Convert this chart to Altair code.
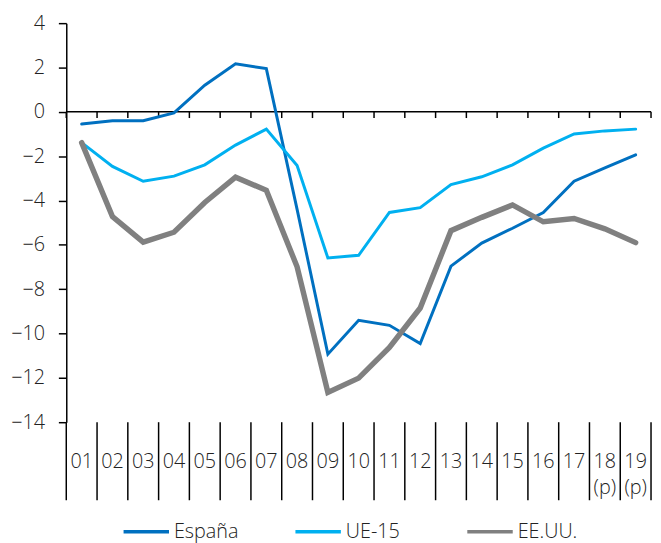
import altair as alt
import pandas as pd

years = ["01", "02", "03", "04", "05", "06", "07", "08", "09", "10",
         "11", "12", "13", "14", "15", "16", "17", "18", "19"]
year_labels = ["01", "02", "03", "04", "05", "06", "07", "08", "09", "10",
               "11", "12", "13", "14", "15", "16", "17", "18\n(p)", "19\n(p)"]

espana = [-0.55, -0.4, -0.4, -0.05, 1.2, 2.17, 1.95, -4.4, -10.93, -9.4,
          -9.63, -10.45, -6.96, -5.92, -5.25, -4.54, -3.13, -2.53, -1.94]
ue15 = [-1.39, -2.46, -3.13, -2.9, -2.39, -1.5, -0.78, -2.42, -6.59, -6.47,
        -4.54, -4.32, -3.28, -2.93, -2.39, -1.64, -1.0, -0.86, -0.78]
eeuu = [-1.39, -4.72, -5.88, -5.43, -4.09, -2.95, -3.54, -6.99, -12.66, -12.01,
        -10.63, -8.85, -5.36, -4.76, -4.2, -4.96, -4.81, -5.28, -5.9]

series_names = ["España", "UE-15", "EE.UU."]
series_colors = ["#0070C0", "#00B0F0", "#808080"]
series_widths = [3, 3, 5.5]
y_ticks = list(range(-14, 5, 2))

FONT = "Open Sans"
FW = 300
FS = 20
n = len(years)
boundaries = list(range(0, n + 1))

rows = []
for name, vals, w in zip(series_names, [espana, ue15, eeuu], series_widths):
    for i, v in enumerate(vals):
        rows.append({"pos": i + 0.5, "year": years[i], "series": name, "value": v, "sw": w})
df = pd.DataFrame(rows)

lab_df = pd.DataFrame({"pos": [i + 0.5 for i in range(n)], "label": year_labels})
bnd_df = pd.DataFrame({"b": boundaries, "top": [0.0] * len(boundaries),
                       "tick": [-0.28] * len(boundaries),
                       "sep0": [-14.0] * len(boundaries),
                       "sep1": [-17.52] * len(boundaries)})
zero_df = pd.DataFrame({"x0": [0], "x1": [n], "v": [0]})

xscale = alt.Scale(domain=[0, n], nice=False, zero=False)
yscale = alt.Scale(domain=[-14, 4], nice=False, zero=False)

lines = alt.Chart(df).mark_line(strokeCap="round", strokeJoin="miter").encode(
    x=alt.X("pos:Q", scale=xscale, title=None,
            axis=alt.Axis(labels=False, ticks=False, domain=False, grid=False)),
    y=alt.Y("value:Q", scale=yscale, title=None,
            axis=alt.Axis(values=y_ticks, grid=False, tickSize=8, tickColor="#000000",
                          tickWidth=1.5, domainColor="#000000", domainWidth=1.5,
                          labelFont=FONT, labelFontSize=FS, labelFontWeight=FW,
                          labelColor="#222222", labelPadding=14)),
    color=alt.Color("series:N", sort=series_names, title=None,
                    scale=alt.Scale(domain=series_names, range=series_colors),
                    legend=alt.Legend(orient="none", legendX=56, legendY=490,
                                      direction="horizontal", symbolType="stroke",
                                      symbolSize=2116, symbolStrokeWidth=3.5,
                                      labelFont=FONT, labelFontSize=FS,
                                      labelFontWeight=FW,
                                      labelColor="#222222", labelOffset=3,
                                      gridAlign="all", columnPadding=50)),
    strokeWidth=alt.StrokeWidth("sw:Q", scale=None),
    detail="series:N",
)

zero = alt.Chart(zero_df).mark_rule(color="#000000", strokeWidth=1.5).encode(
    x=alt.X("x0:Q", scale=xscale),
    x2="x1:Q",
    y=alt.Y("v:Q", scale=yscale),
)

zticks = alt.Chart(bnd_df).mark_rule(color="#000000", strokeWidth=1.5).encode(
    x=alt.X("b:Q", scale=xscale),
    y=alt.Y("top:Q", scale=yscale),
    y2="tick:Q",
)

separators = alt.Chart(bnd_df).mark_rule(color="#000000", strokeWidth=1.5).encode(
    x=alt.X("b:Q", scale=xscale),
    y=alt.Y("sep0:Q", scale=yscale),
    y2="sep1:Q",
)

labels = alt.Chart(lab_df).mark_text(
    font=FONT, fontSize=FS, fontWeight=FW, color="#222222", baseline="alphabetic",
    align="center", lineBreak="\n", lineHeight=27,
).encode(
    x=alt.X("pos:Q", scale=xscale),
    y=alt.value(450),
    text="label:N",
)

chart = alt.layer(zero, zticks, separators, lines, labels).properties(
    width=592, height=404,
    autosize=alt.AutoSizeParams(type="none"),
    padding={"left": 59, "top": 12, "right": 2, "bottom": 123},
).configure_view(stroke=None)

chart.save("out.html", embed_options={"renderer": "svg", "actions": False})
